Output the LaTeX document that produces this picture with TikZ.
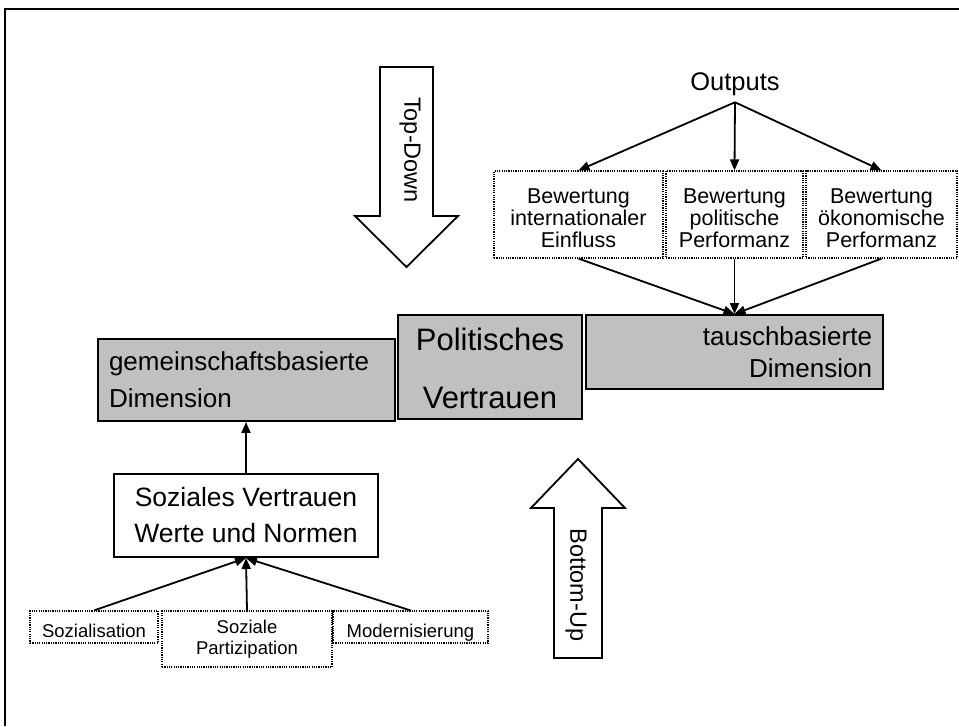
\documentclass[tikz,border=0pt]{standalone}
\usepackage{fontspec}
\setmainfont{Liberation Sans}
\usetikzlibrary{arrows.meta}
\definecolor{boxgray}{RGB}{192,192,192}
\begin{document}
\begin{tikzpicture}[x=1pt,y=-1pt,
  graybox/.style={draw=black, line width=1.9pt, fill=boxgray, inner sep=0pt},
  plainbox/.style={draw=black, line width=2pt, fill=white, inner sep=0pt, align=center},
  dotbox/.style={draw=black, line width=1.2pt, dash pattern=on 1.2pt off 1.1pt, inner sep=0pt, align=center},
  smalltext/.style={font=\fontsize{18.5}{21}\selectfont},
  oneline/.style={text height=22pt, text depth=2pt},
  bewtext/.style={font=\fontsize{21.5}{22}\selectfont},
  arr/.style={line width=1.8pt, -{Triangle[length=11pt,width=9pt]}},
  blockarrow/.style={draw=black, line width=1.8pt, fill=white, line join=miter},
  vlabel/.style={rotate=-90, inner sep=0pt, font=\fontsize{23.5}{23.5}\selectfont},
]
\useasboundingbox (0,0) rectangle (959,726);
\draw[line width=2.4pt] (5,726) -- (5,9) -- (959,9);

% block arrows
\draw[blockarrow] (380,67) -- (433,67) -- (433,216) -- (458,216) -- (406.5,267) -- (355,216) -- (380,216) -- cycle;
\node[vlabel] (td) at (410,150) {Top-Down};
\draw[blockarrow] (554,658) -- (554,508) -- (531,508) -- (578,459) -- (625,508) -- (602,508) -- (602,658) -- cycle;
\node[vlabel] (bu) at (576,585) {Bottom-Up};

% main boxes
\node[graybox, minimum width=297pt, minimum height=82pt, text width=275pt, align=left,
      font=\fontsize{26}{37}\selectfont] (gem) at (246.5,380) {gemeinschaftsbasierte\\Dimension};
\node[graybox, minimum width=184pt, minimum height=104pt, align=center,
      font=\fontsize{31}{58}\selectfont] (pol) at (490,367) {\rule{0pt}{26pt}Politisches\\Vertrauen};
\node[graybox, minimum width=297pt, minimum height=74pt, text width=275pt, align=right,
      font=\fontsize{26}{32}\selectfont] (tau) at (734.5,352) {tauschbasierte\\Dimension};
\node[plainbox, minimum width=264pt, minimum height=83pt,
      font=\fontsize{26.5}{36}\selectfont] (sv) at (246,515.5) {Soziales Vertrauen\\Werte und Normen};

% bottom sources
\node[dotbox, smalltext, oneline, minimum width=128pt, minimum height=32pt] (soz) at (94,627) {Sozialisation};
\node[dotbox, smalltext, minimum width=170pt, minimum height=56pt] (par) at (247,639) {Soziale\\Partizipation};
\node[dotbox, smalltext, oneline, minimum width=155pt, minimum height=32pt] (mod) at (410.5,627) {Modernisierung};

% outputs
\node[inner xsep=0pt, inner ysep=6pt, font=\fontsize{25.5}{25.5}\selectfont] (out) at (735,84.5) {Outputs};
\node[dotbox, bewtext, minimum width=169pt, minimum height=87pt] (b1) at (578.5,214.5) {\rule{0pt}{23pt}Bewertung\\internationaler\\Einfluss};
\node[dotbox, bewtext, minimum width=137pt, minimum height=87pt] (b2) at (734.5,214.5) {\rule{0pt}{23pt}Bewertung\\politische\\Performanz};
\node[dotbox, bewtext, minimum width=151pt, minimum height=87pt] (b3) at (881.5,214.5) {\rule{0pt}{23pt}Bewertung\\ökonomische\\Performanz};

% connectors
\draw[arr] (out.south) -- (b1.north);
\draw[arr] (out.south) -- (b2.north);
\draw[arr] (out.south) -- (b3.north);
\draw[arr] (b1.south) -- (tau.north);
\draw[arr] (b2.south) -- (tau.north);
\draw[arr] (b3.south) -- (tau.north);
\draw[arr] (sv.north) -- (sv.north |- gem.south);
\draw[arr] (soz.north) -- (sv.south);
\draw[arr] (par.north) -- (sv.south);
\draw[arr] (mod.north) -- (sv.south);
\end{tikzpicture}
\end{document}
